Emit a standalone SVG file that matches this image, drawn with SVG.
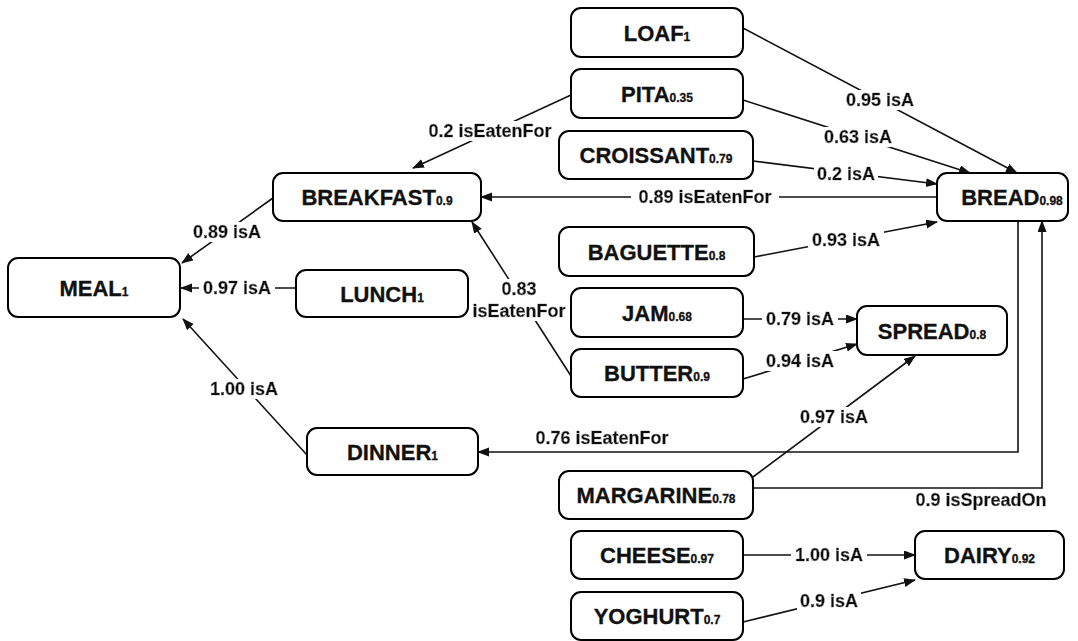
<svg xmlns="http://www.w3.org/2000/svg" width="1078" height="641" viewBox="0 0 1078 641">
<style>
.n rect{fill:#fff;stroke:#000;stroke-width:2}
.n text{font-family:"Liberation Sans",Arial,sans-serif;font-weight:bold;font-size:22px;fill:#111;text-anchor:middle;stroke:#111;stroke-width:0.3}
.n tspan{font-size:12px}
.e path{fill:none;stroke:#111;stroke-width:1.6;marker-end:url(#ah)}
.l{font-family:"Liberation Sans",Arial,sans-serif;font-weight:bold;font-size:18px;fill:#111;stroke:#111;stroke-width:0.5;text-anchor:middle;filter:url(#bg)}
</style>
<defs>
<marker id="ah" markerUnits="userSpaceOnUse" markerWidth="12" markerHeight="10" refX="11" refY="4.5" orient="auto"><path d="M0,0 L12,4.5 L0,9 z" fill="#111"/></marker>
<filter id="bg" x="-0.05" y="0" width="1.1" height="1"><feFlood flood-color="#fff"/><feComposite in="SourceGraphic" operator="over"/></filter>
</defs>
<rect width="1078" height="641" fill="#fff"/>
<g id="connectors" class="e">
<path d="M743,28 L1017,173"/>
<path d="M743,100 L970,173"/>
<path d="M753,161 L937,184"/>
<path d="M937,197 L481,197"/>
<path d="M754,257 L937,222"/>
<path d="M571,95 L413,168"/>
<path d="M571,376 L472,222"/>
<path d="M273,198 L182,263"/>
<path d="M296,288 L181,288"/>
<path d="M307,455 L183,319"/>
<path d="M1018,221 L1018,452 L478,452"/>
<path d="M753,488 L1042,488 L1042,221"/>
<path d="M753,477 L915,356"/>
<path d="M743,319 L857,319"/>
<path d="M743,379 L857,344"/>
<path d="M743,555 L915,555"/>
<path d="M743,622 L915,580"/>
</g>
<g id="labels">
<text class="l" x="880" y="106">0.95 isA</text>
<text class="l" x="858" y="143">0.63 isA</text>
<text class="l" x="846" y="180">0.2 isA</text>
<text class="l" x="705" y="203">0.89 isEatenFor</text>
<text class="l" x="846" y="246">0.93 isA</text>
<text class="l" x="490" y="137">0.2 isEatenFor</text>
<text class="l" x="519" y="295">0.83<tspan x="519" y="317">isEatenFor</tspan></text>
<text class="l" x="227" y="238">0.89 isA</text>
<text class="l" x="237" y="294">0.97 isA</text>
<text class="l" x="244" y="395">1.00 isA</text>
<text class="l" x="602" y="444">0.76 isEatenFor</text>
<text class="l" x="981" y="506">0.9 isSpreadOn</text>
<text class="l" x="834" y="423">0.97 isA</text>
<text class="l" x="800" y="325">0.79 isA</text>
<text class="l" x="800" y="367">0.94 isA</text>
<text class="l" x="829" y="561">1.00 isA</text>
<text class="l" x="829" y="607">0.9 isA</text>
</g>
<g id="LOAF" class="n"><rect x="571" y="8" width="172" height="49" rx="10"/><text x="657" y="40.5">LOAF<tspan>1</tspan></text></g>
<g id="PITA" class="n"><rect x="571" y="69" width="172" height="49" rx="10"/><text x="657" y="101.5">PITA<tspan>0.35</tspan></text></g>
<g id="CROISSANT" class="n"><rect x="559" y="131" width="194" height="48" rx="10"/><text x="656" y="163">CROISSANT<tspan>0.79</tspan></text></g>
<g id="BREAKFAST" class="n"><rect x="273" y="173" width="208" height="48" rx="10"/><text x="377" y="205">BREAKFAST<tspan>0.9</tspan></text></g>
<g id="BREAD" class="n"><rect x="937" y="173" width="131" height="48" rx="10"/><text x="1012" y="205">BREAD<tspan>0.98</tspan></text></g>
<g id="MEAL" class="n"><rect x="8" y="258" width="172" height="59" rx="10"/><text x="94" y="295.5">MEAL<tspan>1</tspan></text></g>
<g id="LUNCH" class="n"><rect x="296" y="270" width="172" height="47" rx="10"/><text x="382" y="301.5">LUNCH<tspan>1</tspan></text></g>
<g id="BAGUETTE" class="n"><rect x="559" y="227" width="195" height="49" rx="10"/><text x="656.5" y="259.5">BAGUETTE<tspan>0.8</tspan></text></g>
<g id="JAM" class="n"><rect x="571" y="288" width="172" height="49" rx="10"/><text x="657" y="320.5">JAM<tspan>0.68</tspan></text></g>
<g id="BUTTER" class="n"><rect x="571" y="349" width="172" height="48" rx="10"/><text x="657" y="381">BUTTER<tspan>0.9</tspan></text></g>
<g id="SPREAD" class="n"><rect x="857" y="306" width="150" height="49" rx="10"/><text x="932" y="338.5">SPREAD<tspan>0.8</tspan></text></g>
<g id="DINNER" class="n"><rect x="307" y="428" width="171" height="47" rx="10"/><text x="392.5" y="459.5">DINNER<tspan>1</tspan></text></g>
<g id="MARGARINE" class="n"><rect x="559" y="471" width="194" height="48" rx="10"/><text x="656" y="503">MARGARINE<tspan>0.78</tspan></text></g>
<g id="CHEESE" class="n"><rect x="571" y="531" width="172" height="48" rx="10"/><text x="657" y="563">CHEESE<tspan>0.97</tspan></text></g>
<g id="YOGHURT" class="n"><rect x="571" y="592" width="172" height="48" rx="10"/><text x="657" y="624">YOGHURT<tspan>0.7</tspan></text></g>
<g id="DAIRY" class="n"><rect x="915" y="531" width="149" height="48" rx="10"/><text x="989.5" y="563">DAIRY<tspan>0.92</tspan></text></g>
</svg>
